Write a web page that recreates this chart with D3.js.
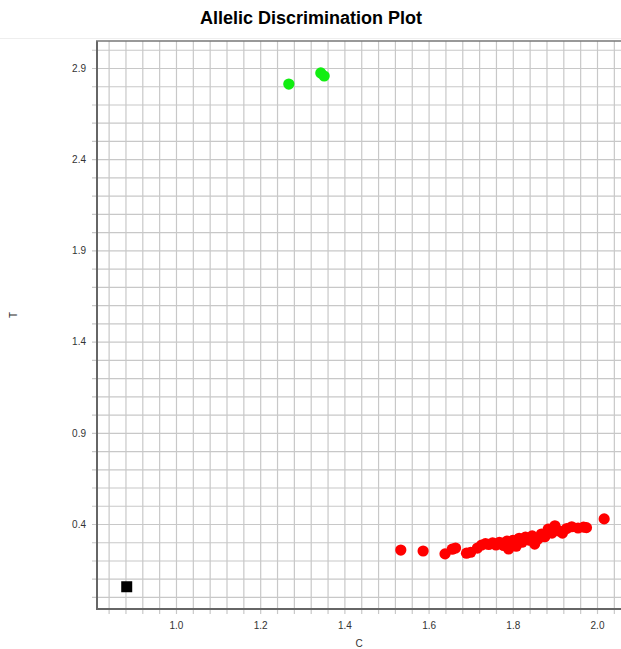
<!DOCTYPE html>
<html>
<head>
<meta charset="utf-8">
<script src="https://cdn.jsdelivr.net/npm/d3@7"></script>
<style>
  html, body { margin: 0; padding: 0; background: #fff; }
  svg { display: block; font-family: "Liberation Sans", Arial, sans-serif; }
</style>
</head>
<body>
<svg id="chart" width="621" height="649"></svg>
<script>
// ---- data ----
const title = "Allelic Discrimination Plot";
const xLabel = "C";
const yLabel = "T";
const xTickValues = [1.0, 1.2, 1.4, 1.6, 1.8, 2.0];
const yTickValues = [0.4, 0.9, 1.4, 1.9, 2.4, 2.9];

// Allele 2 / heterozygous cluster (red): [C, T]
const redC = [1.534, 1.587, 1.639, 1.656, 1.664, 1.690, 1.700, 1.716, 1.726, 1.735,
              1.743, 1.752, 1.760, 1.768, 1.778, 1.786, 1.790, 1.800, 1.808, 1.815,
              1.822, 1.830, 1.838, 1.846, 1.852, 1.860, 1.868, 1.876, 1.884, 1.893,
              1.900, 1.910, 1.918, 1.928, 1.940, 1.955, 1.968, 1.975, 2.017];
const redT = [0.257, 0.252, 0.236, 0.262, 0.268, 0.240, 0.245, 0.268, 0.285, 0.292,
              0.288, 0.296, 0.285, 0.300, 0.282, 0.306, 0.263, 0.310, 0.278, 0.322,
              0.300, 0.328, 0.312, 0.335, 0.290, 0.318, 0.345, 0.330, 0.372, 0.350,
              0.390, 0.362, 0.350, 0.375, 0.385, 0.378, 0.383, 0.380, 0.428];
// green cluster
const greenC = [1.268, 1.344, 1.352];
const greenT = [2.812, 2.873, 2.856];
// no-template control (black square)
const ntcC = [0.883];
const ntcT = [0.056];

// ---- layout ----
const svg = d3.select("#chart");
const L = 97, R = 621, T = 41, B = 609;
const x = d3.scaleLinear().domain([0.8124, 2.057]).range([L, R]);
const y = d3.scaleLinear().domain([-0.066, 3.048]).range([B, T]);

// faint separator under title
svg.append("line").attr("x1", 0).attr("x2", 621).attr("y1", 38.5).attr("y2", 38.5)
  .attr("stroke", "#eeeeee").attr("stroke-width", 1);

// title
svg.append("text").attr("x", 311).attr("y", 24).attr("text-anchor", "middle")
  .attr("font-size", 18).attr("font-weight", "bold").attr("fill", "#000").text(title);

// grid via axes
const xGridVals = d3.range(21, 52).map(i => +(i * 0.04).toFixed(2)).filter(v => x(v) >= L && x(v) <= R);
const yGridVals = d3.range(0, 31).map(i => +(i * 0.1).toFixed(1)).filter(v => y(v) <= B && y(v) >= T);

const gx = svg.append("g").attr("transform", `translate(0,${B})`)
  .call(d3.axisBottom(x).tickValues(xGridVals).tickSize(-(B - T) - 5).tickFormat(""));
gx.select(".domain").remove();
gx.selectAll(".tick line").attr("stroke", "#c8c8c8").attr("stroke-width", 1.2)
  .attr("y1", 5).attr("y2", -(B - T));

const gy = svg.append("g").attr("transform", `translate(${L},0)`)
  .call(d3.axisLeft(y).tickValues(yGridVals).tickSize(0).tickFormat(""));
gy.select(".domain").remove();
gy.selectAll(".tick line").attr("stroke", "#c8c8c8").attr("stroke-width", 1.2)
  .attr("x1", -5).attr("x2", R - L);

// tick labels
const xa = svg.append("g").attr("transform", `translate(0,${B})`)
  .call(d3.axisBottom(x).tickValues(xTickValues).tickSize(0).tickPadding(13).tickFormat(d3.format(".1f")));
xa.select(".domain").remove();
xa.selectAll("text").attr("font-size", 10).attr("fill", "#333").attr("font-family", "Liberation Sans, Arial, sans-serif");

const ya = svg.append("g").attr("transform", `translate(${L},0)`)
  .call(d3.axisLeft(y).tickValues(yTickValues).tickSize(0).tickPadding(11).tickFormat(d3.format(".1f")));
ya.select(".domain").remove();
ya.selectAll("text").attr("font-size", 10).attr("fill", "#333").attr("font-family", "Liberation Sans, Arial, sans-serif");

// frame lines
svg.append("line").attr("x1", L).attr("x2", L).attr("y1", T).attr("y2", B)
  .attr("stroke", "#666").attr("stroke-width", 2);
svg.append("line").attr("x1", L - 1).attr("x2", R).attr("y1", B).attr("y2", B)
  .attr("stroke", "#666").attr("stroke-width", 2);
svg.append("line").attr("x1", L - 1).attr("x2", R).attr("y1", T).attr("y2", T)
  .attr("stroke", "#777").attr("stroke-width", 1.5);

// axis titles
svg.append("text").attr("x", (L + R) / 2).attr("y", 647).attr("text-anchor", "middle")
  .attr("font-size", 10).attr("fill", "#333").text(xLabel);
svg.append("text").attr("transform", "translate(17,315) rotate(-90)").attr("text-anchor", "middle")
  .attr("font-size", 10).attr("fill", "#333").text(yLabel);

// points
const red = redC.map((c, i) => ({c, t: redT[i]}));
svg.append("g").selectAll("circle").data(red).join("circle")
  .attr("cx", d => x(d.c)).attr("cy", d => y(d.t)).attr("r", 5.6).attr("fill", "#ff0000");

const green = greenC.map((c, i) => ({c, t: greenT[i]}));
svg.append("g").selectAll("circle").data(green).join("circle")
  .attr("cx", d => x(d.c)).attr("cy", d => y(d.t)).attr("r", 5.6).attr("fill", "#11ee11");

const ntc = ntcC.map((c, i) => ({c, t: ntcT[i]}));
svg.append("g").selectAll("rect").data(ntc).join("rect")
  .attr("x", d => x(d.c) - 5.5).attr("y", d => y(d.t) - 5.5).attr("width", 11).attr("height", 11)
  .attr("fill", "#000");
</script>
</body>
</html>
